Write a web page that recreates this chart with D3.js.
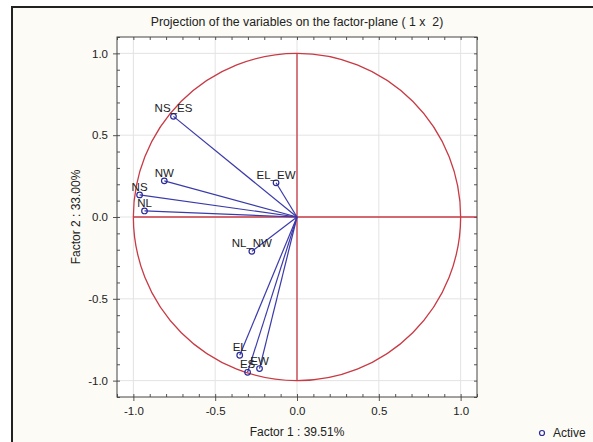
<!DOCTYPE html>
<html>
<head>
<meta charset="utf-8">
<script src="https://cdn.jsdelivr.net/npm/d3@7"></script>
<style>
  body { margin: 0; background: #fff; }
  svg { display: block; font-family: "Liberation Sans", Arial, sans-serif; }
  text { white-space: pre; }
</style>
</head>
<body>
<script>
// variables on the factor-plane
var variables = ["NS_ES", "NW", "NS", "NL", "EL_EW", "NL_NW", "EL", "ES", "EW"]
var factor1 = [-0.755, -0.811, -0.962, -0.932, -0.128, -0.276, -0.350, -0.302, -0.229]
var factor2 = [0.615, 0.221, 0.135, 0.037, 0.209, -0.210, -0.845, -0.949, -0.926]
var tickValues = [-1.0, -0.5, 0.0, 0.5, 1.0]

var width = 593, height = 442
var margin = { top: 37, left: 117, right: 116, bottom: 45 }

var svg = d3.select("body").append("svg")
  .attr("width", width)
  .attr("height", height)

// cream frame with dark border
svg.append("rect").attr("x", 12).attr("y", 7).attr("width", width).attr("height", height)
  .attr("fill", "#fcfbf5").attr("stroke", "#222").attr("stroke-width", 2)

var x = d3.scaleLinear().domain([-1.1, 1.1]).range([margin.left, width - margin.right])
var y = d3.scaleLinear().domain([-1.1, 1.1]).range([height - margin.bottom, margin.top])

svg.append("rect")
  .attr("x", x(-1.1)).attr("y", y(1.1))
  .attr("width", x(1.1) - x(-1.1)).attr("height", y(-1.1) - y(1.1))
  .attr("fill", "#fff")

// grid
svg.append("g").selectAll("line").data(tickValues).join("line")
  .attr("x1", d => x(d)).attr("x2", d => x(d))
  .attr("y1", y(1.1)).attr("y2", y(-1.1))
  .attr("stroke", "#e3e3e3")
svg.append("g").selectAll("line").data(tickValues).join("line")
  .attr("y1", d => y(d)).attr("y2", d => y(d))
  .attr("x1", x(-1.1)).attr("x2", x(1.1))
  .attr("stroke", "#e3e3e3")

// axes
var minor = d3.range(-11, 12).map(d => d / 10)
var fmt = d => d.toFixed(1)
function styleAxis(g) {
  g.select(".domain").remove()
  g.selectAll("line").attr("stroke", "#555")
  g.selectAll("text").attr("fill", "#222").style("font-size", "11.5px")
}
svg.append("g").attr("transform", "translate(0," + y(-1.1) + ")")
  .call(d3.axisBottom(x).tickValues(tickValues).tickFormat(fmt).tickSize(4).tickPadding(6))
  .call(styleAxis)
svg.append("g").attr("transform", "translate(" + x(-1.1) + ",0)")
  .call(d3.axisLeft(y).tickValues(tickValues).tickFormat(fmt).tickSize(4).tickPadding(5))
  .call(styleAxis)
svg.append("g").attr("transform", "translate(0," + y(-1.1) + ")")
  .call(d3.axisBottom(x).tickValues(minor).tickFormat("").tickSize(-3)).call(styleAxis)
svg.append("g").attr("transform", "translate(0," + y(1.1) + ")")
  .call(d3.axisTop(x).tickValues(minor).tickFormat("").tickSize(-3)).call(styleAxis)
svg.append("g").attr("transform", "translate(" + x(-1.1) + ",0)")
  .call(d3.axisLeft(y).tickValues(minor).tickFormat("").tickSize(-3)).call(styleAxis)
svg.append("g").attr("transform", "translate(" + x(1.1) + ",0)")
  .call(d3.axisRight(y).tickValues(minor).tickFormat("").tickSize(-3)).call(styleAxis)

// unit circle and zero lines
var red = "#c83a44"
svg.append("ellipse")
  .attr("cx", x(0)).attr("cy", y(0))
  .attr("rx", x(1) - x(0)).attr("ry", y(0) - y(1))
  .attr("fill", "none").attr("stroke", red).attr("stroke-width", 1.3)
svg.append("line").attr("x1", x(-1)).attr("x2", x(1.1)).attr("y1", y(0)).attr("y2", y(0))
  .attr("stroke", red).attr("stroke-width", 1.3)
svg.append("line").attr("x1", x(0)).attr("x2", x(0)).attr("y1", y(1)).attr("y2", y(-1))
  .attr("stroke", red).attr("stroke-width", 1.3)

// plot frame
svg.append("rect")
  .attr("x", x(-1.1)).attr("y", y(1.1))
  .attr("width", x(1.1) - x(-1.1)).attr("height", y(-1.1) - y(1.1))
  .attr("fill", "none").attr("stroke", "#444")

// vectors
var idx = d3.range(variables.length)
svg.append("g").selectAll("line").data(idx).join("line")
  .attr("x1", x(0)).attr("y1", y(0))
  .attr("x2", i => x(factor1[i])).attr("y2", i => y(factor2[i]))
  .attr("stroke", "#3a3aaa").attr("stroke-width", 1.2)
svg.append("g").selectAll("circle").data(idx).join("circle")
  .attr("cx", i => x(factor1[i])).attr("cy", i => y(factor2[i])).attr("r", 2.8)
  .attr("fill", "none").attr("stroke", "#2a2a9a").attr("stroke-width", 1.2)
svg.append("g").selectAll("text").data(idx).join("text")
  .attr("x", i => x(factor1[i])).attr("y", i => y(factor2[i]) - 4)
  .attr("text-anchor", "middle").style("font-size", "11.5px").attr("fill", "#222")
  .text(i => variables[i])

// titles
svg.append("text").attr("x", x(0)).attr("y", 26).attr("text-anchor", "middle")
  .style("font-size", "12.3px").attr("fill", "#222")
  .text("Projection of the variables on the factor-plane ( 1 x  2)")
svg.append("text").attr("x", x(0)).attr("y", 436).attr("text-anchor", "middle")
  .style("font-size", "12px").attr("fill", "#222")
  .text("Factor 1 : 39.51%")
svg.append("text").attr("transform", "translate(80," + y(0) + ") rotate(-90)")
  .attr("text-anchor", "middle").style("font-size", "12px").attr("fill", "#222")
  .text("Factor 2 : 33.00%")

// legend
svg.append("circle").attr("cx", 542).attr("cy", 433).attr("r", 2.5)
  .attr("fill", "none").attr("stroke", "#2a2a9a").attr("stroke-width", 1.2)
svg.append("text").attr("x", 553).attr("y", 437).style("font-size", "12px").attr("fill", "#222")
  .text("Active")
</script>
</body>
</html>
